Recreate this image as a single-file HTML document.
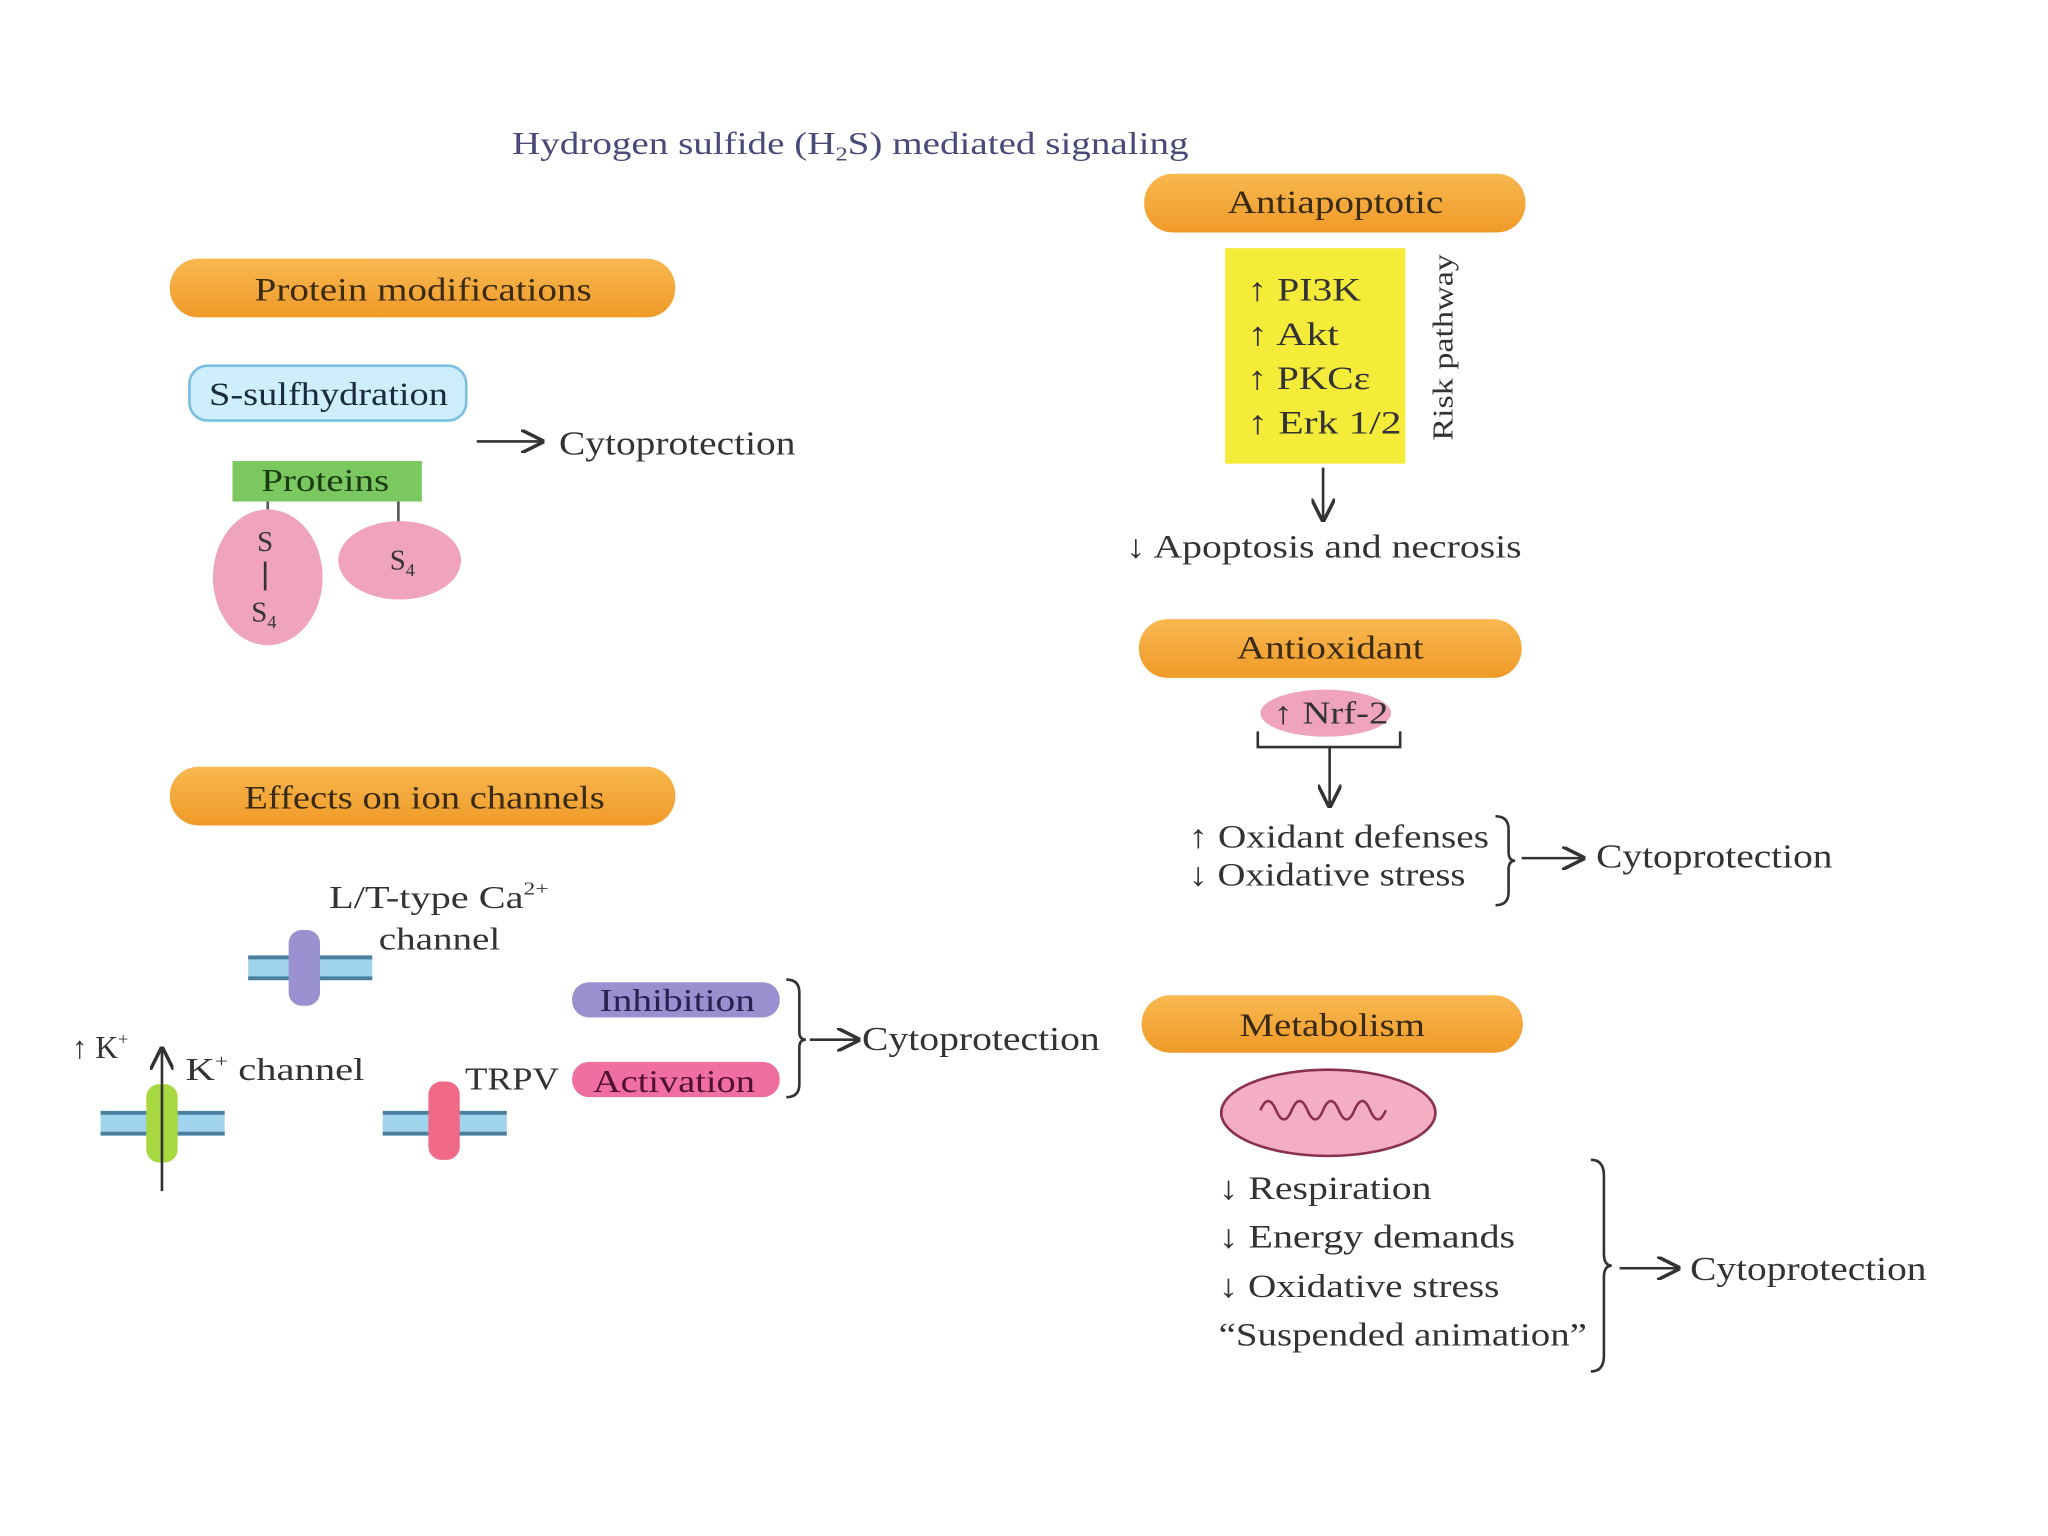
<!DOCTYPE html>
<html><head><meta charset="utf-8"><style>
html,body{margin:0;padding:0;background:#fff;}
svg{display:block;}
text{font-family:"Liberation Serif",serif;}
</style></head><body>
<svg width="2048" height="1536" viewBox="0 0 1568 1176" xmlns="http://www.w3.org/2000/svg">
<defs>
<linearGradient id="og" x1="0" y1="0" x2="0" y2="1"><stop offset="0" stop-color="#f8b850"/><stop offset="1" stop-color="#f09a28"/></linearGradient>
<marker id="ah" viewBox="0 0 10 10" refX="9" refY="5" markerWidth="9" markerHeight="9" orient="auto"><path d="M0,0 L10,5 L0,10" fill="none" stroke="#333" stroke-width="1.5"/></marker>
<g id="mem"><rect x="0" y="-9" width="95" height="18" fill="#9fd4ec"/><line x1="0" y1="-8" x2="95" y2="-8" stroke="#4a7fa0" stroke-width="3"/><line x1="0" y1="8" x2="95" y2="8" stroke="#4a7fa0" stroke-width="3"/></g>
</defs>
<rect width="1568" height="1176" fill="#fff"/>
<text x="392" y="118" font-size="24" fill="#4a4a7a" textLength="518" lengthAdjust="spacingAndGlyphs">Hydrogen sulfide (H<tspan font-size="15" dy="5">2</tspan><tspan dy="-5">S) mediated signaling</tspan></text>

<g font-size="25" fill="#3a2a10">
<rect x="130" y="198" width="387" height="45" rx="22" fill="url(#og)"/><text x="195" y="230" textLength="258" lengthAdjust="spacingAndGlyphs">Protein modifications</text>
<rect x="876" y="133" width="292" height="45" rx="22" fill="url(#og)"/><text x="940" y="163" textLength="165" lengthAdjust="spacingAndGlyphs">Antiapoptotic</text>
<rect x="872" y="474" width="293" height="45" rx="22" fill="url(#og)"/><text x="947" y="504" textLength="143" lengthAdjust="spacingAndGlyphs">Antioxidant</text>
<rect x="874" y="762" width="292" height="44" rx="22" fill="url(#og)"/><text x="949" y="793" textLength="142" lengthAdjust="spacingAndGlyphs">Metabolism</text>
<rect x="130" y="587" width="387" height="45" rx="22" fill="url(#og)"/><text x="187" y="619" textLength="276" lengthAdjust="spacingAndGlyphs">Effects on ion channels</text>
</g>

<rect x="145" y="280" width="212" height="42" rx="14" fill="#cdeefa" stroke="#7bbfe0" stroke-width="2"/>
<text x="160" y="310" font-size="25" fill="#1a2a40" textLength="183" lengthAdjust="spacingAndGlyphs">S-sulfhydration</text>
<line x1="365" y1="338" x2="415" y2="338" stroke="#333" stroke-width="2" marker-end="url(#ah)"/>
<text x="428" y="348" font-size="26" fill="#333" textLength="181" lengthAdjust="spacingAndGlyphs">Cytoprotection</text>
<rect x="178" y="353" width="145" height="31" fill="#7cc860"/>
<text x="200" y="376" font-size="24" fill="#1a3a10" textLength="98" lengthAdjust="spacingAndGlyphs">Proteins</text>
<line x1="205" y1="384" x2="205" y2="395" stroke="#555" stroke-width="2"/>
<line x1="305" y1="384" x2="305" y2="400" stroke="#555" stroke-width="2"/>
<ellipse cx="205" cy="442" rx="42" ry="52" fill="#f0a4bc"/>
<ellipse cx="306" cy="429" rx="47" ry="30" fill="#f0a4bc"/>
<g font-size="22" fill="#333" text-anchor="middle">
<text x="203" y="422">S</text><line x1="203" y1="430" x2="203" y2="452" stroke="#333" stroke-width="2"/>
<text x="202" y="476">S<tspan font-size="14" dy="5">4</tspan></text>
<text x="308" y="436">S<tspan font-size="14" dy="5">4</tspan></text>
</g>

<rect x="938" y="190" width="138" height="165" fill="#f5ec3a"/>
<g font-size="25" fill="#333">
<text x="955" y="230" textLength="87" lengthAdjust="spacingAndGlyphs">↑ PI3K</text><text x="955" y="264" textLength="70" lengthAdjust="spacingAndGlyphs">↑ Akt</text><text x="955" y="298" textLength="94" lengthAdjust="spacingAndGlyphs">↑ PKCε</text><text x="955" y="332" textLength="118" lengthAdjust="spacingAndGlyphs">↑ Erk 1/2</text>
</g>
<text transform="translate(1112,266) rotate(-90)" font-size="22" fill="#333" text-anchor="middle" textLength="143" lengthAdjust="spacingAndGlyphs">Risk pathway</text>
<line x1="1013" y1="358" x2="1013" y2="398" stroke="#333" stroke-width="2" marker-end="url(#ah)"/>
<text x="862" y="427" font-size="25" fill="#333" textLength="303" lengthAdjust="spacingAndGlyphs">↓ Apoptosis and necrosis</text>

<ellipse cx="1015" cy="546" rx="50" ry="18" fill="#f0a4bc"/>
<text x="975" y="554" font-size="24" fill="#333" textLength="88" lengthAdjust="spacingAndGlyphs">↑ Nrf-2</text>
<path d="M963,560 V572 H1072 V560" fill="none" stroke="#333" stroke-width="2"/>
<line x1="1018" y1="572" x2="1018" y2="617" stroke="#333" stroke-width="2" marker-end="url(#ah)"/>
<g font-size="25" fill="#333"><text x="910" y="649" textLength="230" lengthAdjust="spacingAndGlyphs">↑ Oxidant defenses</text><text x="910" y="678" textLength="212" lengthAdjust="spacingAndGlyphs">↓ Oxidative stress</text></g>
<path d="M1145,625 Q1155,625 1155,635 V652 Q1155,659 1160,659 Q1155,659 1155,666 V683 Q1155,693 1145,693" fill="none" stroke="#333" stroke-width="2"/>
<line x1="1165" y1="657" x2="1212" y2="657" stroke="#333" stroke-width="2" marker-end="url(#ah)"/>
<text x="1222" y="664" font-size="26" fill="#333" textLength="181" lengthAdjust="spacingAndGlyphs">Cytoprotection</text>

<ellipse cx="1017" cy="852" rx="82" ry="33" fill="#f3aec4" stroke="#8a3050" stroke-width="2"/>
<path d="M965,850 q6,-14 12,0 q6,14 12,0 q6,-14 12,0 q6,14 12,0 q6,-14 12,0 q6,14 12,0 q6,-14 12,0 q6,14 12,0" fill="none" stroke="#8a3050" stroke-width="2"/>
<g font-size="25" fill="#333"><text x="933" y="918" textLength="163" lengthAdjust="spacingAndGlyphs">↓ Respiration</text><text x="933" y="955" textLength="227" lengthAdjust="spacingAndGlyphs">↓ Energy demands</text><text x="933" y="993" textLength="215" lengthAdjust="spacingAndGlyphs">↓ Oxidative stress</text><text x="933" y="1030" textLength="282" lengthAdjust="spacingAndGlyphs">“Suspended animation”</text></g>
<path d="M1218,888 Q1228,888 1228,900 V960 Q1228,969 1234,969 Q1228,969 1228,978 V1038 Q1228,1050 1218,1050" fill="none" stroke="#333" stroke-width="2"/>
<line x1="1240" y1="971" x2="1285" y2="971" stroke="#333" stroke-width="2" marker-end="url(#ah)"/>
<text x="1294" y="980" font-size="26" fill="#333" textLength="181" lengthAdjust="spacingAndGlyphs">Cytoprotection</text>

<use href="#mem" x="190" y="741"/>
<rect x="221" y="712" width="24" height="58" rx="10" fill="#9a92d0"/>
<text x="252" y="695" font-size="24" fill="#333" textLength="168" lengthAdjust="spacingAndGlyphs">L/T-type Ca<tspan font-size="14" dy="-10">2+</tspan></text>
<text x="290" y="727" font-size="24" fill="#333" textLength="93" lengthAdjust="spacingAndGlyphs">channel</text>
<rect x="438" y="752" width="159" height="27" rx="13" fill="#9b8fd0"/>
<text x="459" y="774" font-size="24" fill="#2a2050" textLength="119" lengthAdjust="spacingAndGlyphs">Inhibition</text>
<rect x="438" y="813" width="159" height="27" rx="13" fill="#f06fa0"/>
<text x="454" y="836" font-size="24" fill="#501030" textLength="124" lengthAdjust="spacingAndGlyphs">Activation</text>
<text x="356" y="834" font-size="24" fill="#333" textLength="72" lengthAdjust="spacingAndGlyphs">TRPV</text>
<use href="#mem" x="293" y="860"/>
<rect x="328" y="828" width="24" height="60" rx="10" fill="#f06a88"/>
<path d="M602,750 Q612,750 612,760 V790 Q612,796 617,796 Q612,796 612,802 V830 Q612,840 602,840" fill="none" stroke="#333" stroke-width="2"/>
<line x1="620" y1="796" x2="657" y2="796" stroke="#333" stroke-width="2" marker-end="url(#ah)"/>
<text x="660" y="804" font-size="26" fill="#333" textLength="182" lengthAdjust="spacingAndGlyphs">Cytoprotection</text>
<text x="55" y="810" font-size="24" fill="#333">↑ K<tspan font-size="14" dy="-10">+</tspan></text>
<line x1="124" y1="830" x2="124" y2="803" stroke="#333" stroke-width="2" marker-end="url(#ah)"/>
<text x="142" y="827" font-size="24" fill="#333" textLength="137" lengthAdjust="spacingAndGlyphs">K<tspan font-size="14" dy="-10">+</tspan><tspan dy="10"> channel</tspan></text>
<use href="#mem" x="77" y="860"/>
<rect x="112" y="830" width="24" height="60" rx="10" fill="#a8d840"/>
<line x1="124" y1="830" x2="124" y2="912" stroke="#333" stroke-width="2"/>
</svg>
</body></html>
